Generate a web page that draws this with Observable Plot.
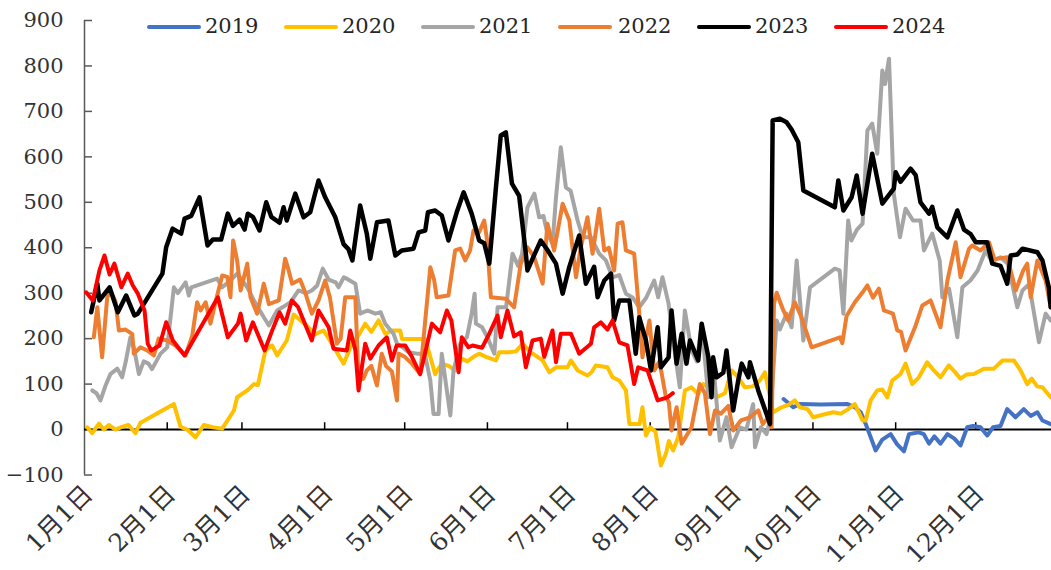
<!DOCTYPE html>
<html>
<head>
<meta charset="utf-8">
<script src="https://cdn.jsdelivr.net/npm/d3@7"></script>
<script src="https://cdn.jsdelivr.net/npm/@observablehq/plot@0.6"></script>
<style>
  html, body { margin: 0; padding: 0; background: #fff; }
  #wrap { position: relative; width: 1051px; height: 570px; }
  .lg-sw { position: absolute; height: 4px; border-radius: 2px; }
  .lg-tx { position: absolute; font-family: "DejaVu Serif", serif; font-size: 21px; color: #262626; line-height: 24px; }
</style>
</head>
<body>
<div id="wrap"></div>
<script>
// x = days since 1 Jan (non-leap calendar)
const tickDays = [0, 31, 59, 90, 120, 151, 181, 212, 243, 273, 304, 334];
const xLabels = ["1月1日","2月1日","3月1日","4月1日","5月1日","6月1日","7月1日","8月1日","9月1日","10月1日","11月1日","12月1日"];
const yTicks = [-100, 0, 100, 200, 300, 400, 500, 600, 700, 800, 900];
const years = ["2019","2020","2021","2022","2023","2024"];
const colors = ["#4472C4","#FFC000","#A5A5A5","#ED7D31","#000000","#FF0000"];

const s2019 = [[262,67],[265.6,49],[268,56],[276,55],[286,56],[288.7,49],[290.9,38],[292.8,12],[296.5,-46],[299,-22],[302.1,-10],[304.5,-32],[307.1,-48],[309,-10],[312.7,-6],[314.5,-10],[316.5,-31],[318.5,-15],[320.8,-31],[323.4,-10],[326,-20],[328.3,-35],[330.8,5],[333,8],[335.8,5],[338.3,-13],[340.5,5],[343.3,8],[345.8,45],[348.9,27],[352,45],[354.6,30],[357.1,38],[359,20],[362.1,12]];

const s2020 = [[1,5],[2.9,-8],[5.4,13],[7.3,0],[9.1,10],[11.6,0],[14,6],[16.5,10],[19.1,-8],[21,15],[33.5,56],[36,6],[38.5,0],[41.6,-17],[44.7,10],[48,5],[51.6,2],[56,42],[57.2,71],[61,86],[63.5,100],[65,98],[67.8,174],[70.3,185],[72.2,163],[75.8,196],[78.4,253],[81,240],[83,230],[86.5,210],[89.6,218],[92.7,189],[97.1,145],[100.2,189],[102.5,205],[105.2,233],[107.5,215],[110.2,240],[112.7,211],[115.5,218],[118.3,218],[119,199],[123.9,199],[127.7,199],[131.4,122],[133.9,145],[136.5,140],[138.9,130],[141.4,156],[143.5,150],[145.8,160],[147.9,167],[150.5,160],[154.2,152],[155.4,170],[159.2,170],[161.7,172],[164.2,189],[167.3,170],[171.7,152],[174.2,126],[176.7,137],[181,137],[182.3,152],[184.8,130],[188.5,119],[190,126],[191.6,141],[196,137],[197.9,115],[200.4,108],[202.9,86],[204.2,12],[208,12],[209.1,49],[210.4,-13],[212,5],[214,-5],[216,-79],[217.9,-53],[219,-25],[220.6,-46],[222.5,-17],[225,86],[227.5,93],[230,78],[231.9,100],[234.5,90],[236.9,71],[240,80],[242.5,130],[245,115],[247.5,93],[250.5,95],[253.1,108],[255,126],[258.1,38],[261.2,49],[264,55],[266.2,64],[268.1,49],[271,45],[273.1,27],[277,33],[280.6,38],[283.5,35],[286.2,45],[288.7,56],[291.6,20],[292.8,20],[294.6,64],[297.1,86],[299,88],[300.9,71],[302.7,108],[305.8,122],[307.7,145],[310.2,100],[312.7,115],[315.8,148],[318.3,130],[320.8,115],[323.9,141],[326,128],[328.3,112],[330.5,121],[333.3,122],[337.1,134],[340.8,134],[344,152],[348.3,152],[350.8,130],[353.3,100],[355,112],[357,95],[359,93],[362.1,71]];

const s2021 = [[2.9,86],[4.5,80],[6,64],[7.9,97],[9.7,122],[12.3,134],[14.1,115],[15.4,148],[17.2,203],[18.5,180],[20.4,122],[22.2,150],[24,145],[25.3,133],[28.5,167],[31,181],[33.5,313],[35,300],[37.9,324],[39.1,295],[40,313],[49.7,332],[51.6,313],[54.7,328],[57.2,343],[61,313],[63.5,284],[67.2,247],[69.1,229],[72.2,262],[74.5,270],[77.2,280],[80.2,306],[83,300],[85.2,306],[87.2,317],[89.3,354],[91.5,330],[94.1,324],[95.2,313],[97.2,335],[98.3,332],[101.5,321],[103.3,255],[106,262],[109,255],[111,258],[112.7,233],[115.8,211],[117.1,189],[119.5,180],[121.4,170],[124.6,167],[127.5,167],[129.6,108],[130.8,34],[132.7,34],[133.9,167],[135.8,86],[137.1,31],[138.3,130],[140.8,189],[143.3,203],[145.1,255],[146.2,299],[146.7,233],[149,225],[151,203],[153.6,167],[154.8,269],[158,269],[160.4,387],[162.5,360],[164,387],[166,489],[168.6,519],[170.4,467],[172,470],[173.5,431],[175.4,409],[176.7,511],[178.5,621],[180.4,533],[182.2,525],[184.8,460],[186.7,423],[189.8,423],[192.9,387],[195.4,372],[197.9,335],[200.4,340],[202.9,299],[205.5,290],[207.9,269],[210.5,290],[213.5,328],[215,291],[216.6,335],[218.9,277],[220.6,196],[223.1,93],[225,262],[227.5,174],[229.5,150],[231.3,233],[233.8,71],[236,120],[238.1,-24],[240.6,27],[242.5,-39],[245.6,5],[248,0],[250.6,56],[251.3,-39],[253.5,5],[255.6,-10],[256.9,20],[259.4,240],[260.6,220],[263.1,255],[265,225],[266.9,372],[269.4,196],[271.9,313],[281.2,354],[283,350],[284.4,255],[286.2,460],[287.4,416],[289.5,440],[291.6,453],[293.4,658],[295.2,673],[297.1,607],[299,790],[300,760],[301.5,816],[303.3,519],[305.6,423],[307.7,486],[310.5,460],[313.3,460],[314.6,394],[317.7,431],[320.5,372],[321.5,291],[324,310],[327.1,203],[329,313],[332,328],[334.7,350],[337.7,394],[340,370],[343.3,379],[346,365],[349.6,269],[351.5,306],[354,320],[357.7,192],[360.2,255],[362.1,240]];

const s2022 = [[3.5,203],[4.8,269],[6.6,159],[8.5,290],[9.7,306],[11.6,282],[12.9,218],[15.4,220],[17.9,210],[18.5,167],[21,181],[23.5,174],[26,163],[27.8,200],[31,196],[34.1,185],[37.9,163],[40.4,207],[42.2,280],[43.5,262],[45.4,280],[47.2,233],[49.1,280],[51.6,339],[53.5,336],[54.7,291],[55.7,416],[57.2,372],[58.5,306],[61,365],[62.2,291],[64.7,255],[67.2,321],[69.1,276],[72.8,284],[75.2,376],[76.2,357],[77.8,321],[80.8,330],[82.7,302],[85.2,255],[87.7,284],[90.2,328],[92,290],[94.6,189],[96,200],[97.7,291],[101.5,291],[102.7,108],[104.5,112],[105.8,130],[107.5,140],[109.6,97],[111.4,167],[113,140],[115.2,128],[117.1,64],[117.7,167],[120,160],[122.7,145],[125.8,122],[127.7,240],[129.6,357],[131,330],[132,291],[136.4,295],[138.9,394],[140.8,398],[142.7,372],[144.5,394],[145.8,438],[147.9,434],[149.8,460],[150.8,420],[152.3,291],[157.9,288],[161,269],[163.5,365],[166,401],[168.5,380],[171.7,321],[173.5,453],[176,394],[179.2,497],[181.7,460],[184.2,335],[186,401],[188.5,467],[190.4,387],[192.9,486],[194.8,394],[196.5,400],[198.5,350],[199.8,453],[201.6,456],[202.9,394],[206,387],[207.9,255],[209.1,159],[211.7,240],[213.5,130],[215.5,150],[217.9,71],[219,60],[220,-2],[221.9,49],[223.8,-31],[227.5,5],[230.6,100],[232.5,80],[234.4,-10],[236.3,42],[238.5,35],[241.3,52],[243.1,-2],[246,20],[249.4,27],[252.5,42],[254.2,12],[256,25],[257.5,5],[258.4,277],[259.4,301],[261.9,262],[263.7,240],[266.2,280],[268.5,250],[272.5,181],[283.1,203],[284,190],[285.6,250],[288.7,280],[291.6,302],[293.4,317],[295.5,290],[297.7,310],[299.6,262],[303,255],[304.6,218],[306,215],[307.7,174],[311.5,229],[314,273],[317.1,284],[320.8,225],[323.4,328],[326.5,412],[328.3,335],[331.5,398],[332.7,405],[335.8,394],[339,412],[341,375],[345.8,379],[349,306],[351.8,350],[353.3,365],[354.6,291],[357.1,372],[360.2,328],[362.1,269]];

const s2023 = [[2.5,258],[4.8,321],[5.6,284],[9.4,313],[12.5,258],[15.6,295],[18.7,251],[20,255],[29.2,343],[30.6,401],[33,442],[36.2,431],[37.5,464],[40,470],[43.1,511],[46.1,405],[48.1,418],[51.2,418],[53.7,475],[55.6,448],[58.1,462],[60,440],[61.2,475],[63.1,468],[65.6,438],[68.1,500],[70,468],[73.1,455],[74.6,489],[75.8,460],[79,519],[82.1,467],[84.6,478],[87.7,548],[90.2,511],[94,467],[97.1,408],[98.9,397],[100.4,372],[103.3,493],[105.8,431],[107.1,376],[109.6,456],[113.9,460],[116.5,383],[118.9,394],[123.3,398],[125.2,434],[127.7,438],[128.7,478],[131.4,482],[133.9,471],[136.4,416],[139.5,478],[142.1,522],[145.1,475],[147.9,416],[149.8,410],[151.7,365],[154.2,533],[156,647],[157.9,654],[160.2,541],[162.9,514],[165.4,387],[166,350],[168.6,385],[171,416],[173.5,395],[176.7,365],[179.2,299],[181.7,358],[185.4,427],[187.9,321],[191,358],[192.3,291],[194.8,328],[197.3,343],[198.5,240],[200.4,284],[204.2,284],[206.6,167],[207.9,247],[210.4,196],[212.3,130],[214.8,225],[216,137],[218.9,159],[220,262],[221.9,145],[223.8,211],[225.6,145],[226.9,196],[230,152],[231.3,233],[233.8,159],[235,71],[235.6,159],[236.9,115],[239.4,125],[240.6,174],[243.1,42],[245,108],[246.3,145],[248.8,115],[249.4,148],[252.5,86],[255.6,34],[256.9,12],[257.9,680],[260.6,684],[263.1,676],[265,660],[267.5,632],[269.4,526],[281.2,489],[282.5,548],[284.4,482],[287.5,511],[289.4,559],[291.6,475],[295.2,607],[299,497],[303.3,530],[304,566],[305.8,545],[309.6,574],[311.5,560],[313.3,500],[316.5,475],[317.7,490],[319.6,445],[323.4,423],[327.1,482],[329.6,440],[332.1,430],[334,412],[338.3,412],[340.2,365],[343.3,360],[345.8,321],[347.1,383],[349.6,385],[351.5,398],[357.1,390],[359,372],[361.4,313],[362.1,269]];

const s2024 = [[0.6,302],[3.1,284],[5.6,350],[7.5,383],[9.4,341],[11.2,365],[13.8,313],[16.2,343],[18.1,317],[20,299],[22.5,262],[23.7,189],[25,174],[28.1,185],[30.6,236],[33.1,196],[37.5,163],[50,291],[53.7,203],[57.5,233],[58.5,255],[60.6,196],[63.1,236],[67.5,174],[70.6,222],[73.1,258],[75.2,233],[77.7,284],[80,270],[82.1,240],[85.2,196],[87.7,262],[91.5,225],[93.3,178],[98.3,174],[99.6,218],[101.5,175],[102.7,86],[105.2,189],[107.1,156],[110.2,185],[113.3,203],[115.2,152],[117,185],[120.2,185],[122.7,160],[125.8,122],[130.2,233],[133.3,214],[135.8,262],[137.5,240],[140.2,126],[141.4,203],[143.9,181],[145.4,185],[149,180],[151.7,211],[154.8,251],[156,203],[158.5,262],[161,205],[163.5,214],[165.4,137],[167.9,196],[171,200],[172.3,160],[175.4,218],[176.7,148],[178.5,211],[182.3,211],[185.4,167],[189.8,189],[191,225],[193.5,236],[196,220],[197.9,240],[200.4,192],[203.5,185],[206,100],[207.5,137],[211,130],[214.8,64],[218.5,71],[220.5,80]];

const seriesList = [s2019, s2020, s2021, s2022, s2023, s2024];
const widths = [4, 4, 4, 4, 4.5, 4];

const lineMarks = seriesList.map((s, i) =>
  Plot.line(s.map(([day, value]) => ({day, value})), {
    x: "day", y: "value", stroke: colors[i], strokeWidth: widths[i],
    strokeLinejoin: "round", strokeLinecap: "round"
  })
);

const chart = Plot.plot({
  width: 1051,
  height: 570,
  marginLeft: 84,
  marginRight: 0,
  marginTop: 20,
  marginBottom: 95.5,
  style: { fontFamily: "'DejaVu Serif', 'Noto Sans CJK SC', serif", background: "#fff", overflow: "visible" },
  x: { domain: [0, 362.4], axis: null },
  y: { domain: [-100, 900], axis: null },
  marks: [
    Plot.ruleX([0], { y1: -100, y2: 900, stroke: "#595959", strokeWidth: 1.5 }),
    Plot.ruleY(yTicks, { x1: 0, x2: 3, stroke: "#595959", strokeWidth: 1.5 }),
    Plot.axisY({ ticks: yTicks, label: null, tickSize: 0, tickPadding: 21, fontSize: 21, tickFormat: d => d < 0 ? "\u2212" + Math.abs(d) : String(d), fill: "#333" }),
    Plot.ruleY([0], { stroke: "#000", strokeWidth: 2 }),
    Plot.ruleX(tickDays.slice(1), { y1: 0, y2: 15, stroke: "#000", strokeWidth: 1.5 }),
    Plot.text(tickDays, {
      x: d => d, y: () => -100, text: (d, i) => xLabels[i],
      rotate: -45, textAnchor: "end", dx: 4, dy: 15, fontSize: 25, fill: "#333",
      fontFamily: "'DejaVu Serif', 'Noto Sans CJK SC', serif"
    }),
    ...lineMarks
  ]
});

const wrap = document.getElementById("wrap");
wrap.appendChild(chart);

// legend overlay
const legendPos = [[147, 205], [284, 342], [421, 479], [558, 618], [697, 755], [834, 892]];
years.forEach((yr, i) => {
  const sw = document.createElement("div");
  sw.className = "lg-sw";
  sw.style.left = legendPos[i][0] + "px";
  sw.style.top = "25px";
  sw.style.width = "54px";
  sw.style.background = colors[i];
  wrap.appendChild(sw);
  const tx = document.createElement("div");
  tx.className = "lg-tx";
  tx.style.left = legendPos[i][1] + "px";
  tx.style.top = "14px";
  tx.textContent = yr;
  wrap.appendChild(tx);
});
</script>
</body>
</html>
